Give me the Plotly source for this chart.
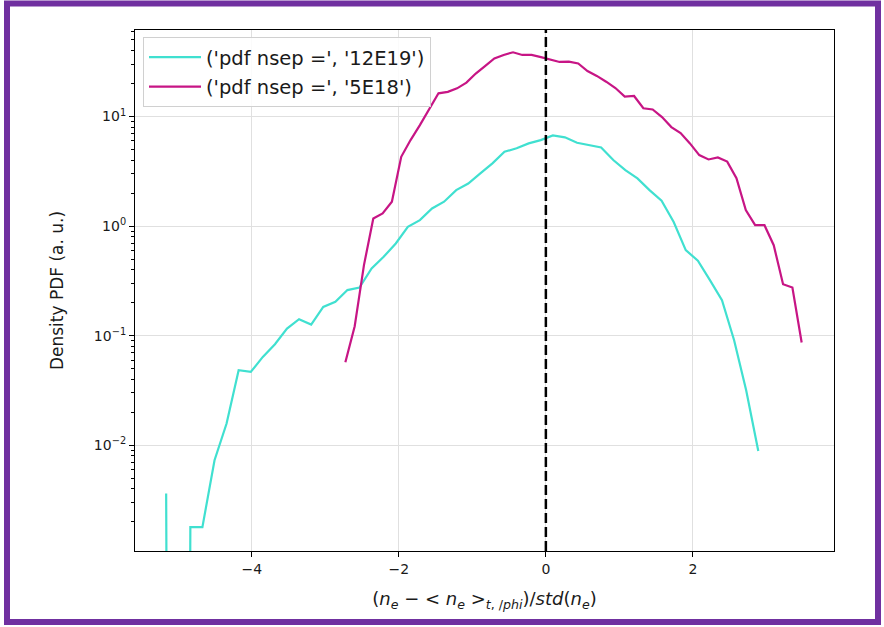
import plotly.graph_objects as go

# Figure geometry (pixels)
FIG_W, FIG_H = 884, 627
M_L, M_R, M_T, M_B = 135, 50, 30, 76
PLOT_W = FIG_W - M_L - M_R
PLOT_H = FIG_H - M_T - M_B

series_names = ["('pdf nsep =', '12E19')", "('pdf nsep =', '5E18')"]
series_colors = ["#40e0d0", "#c71585"]

# Normalised density PDF, nsep = 12E19
x_12e19 = [-5.166, -5.002, -4.837, -4.673, -4.508, -4.344, -4.180, -4.015, -3.851, -3.686,
           -3.522, -3.358, -3.193, -3.029, -2.864, -2.700, -2.536, -2.371, -2.207, -2.042,
           -1.878, -1.714, -1.549, -1.385, -1.220, -1.056, -0.892, -0.727, -0.563, -0.398,
           -0.234, -0.070, 0.095, 0.259, 0.424, 0.588, 0.752, 0.917, 1.081, 1.246,
           1.410, 1.574, 1.739, 1.903, 2.068, 2.232, 2.396, 2.561, 2.725, 2.890]
pdf_12e19 = [0.00362, 0.0, 0.00179, 0.00179, 0.0073, 0.0158, 0.0484, 0.0467, 0.064, 0.0836,
             0.116, 0.1415, 0.1265, 0.183, 0.204, 0.261, 0.275, 0.411, 0.525, 0.695,
             0.986, 1.135, 1.45, 1.67, 2.13, 2.45, 3.03, 3.74, 4.77, 5.13,
             5.69, 6.10, 6.73, 6.46, 5.77, 5.52, 5.23, 4.01, 3.25, 2.73,
             2.13, 1.71, 1.09, 0.604, 0.484, 0.321, 0.211, 0.091, 0.0318, 0.00887]

# Normalised density PDF, nsep = 5E18
x_5e18 = [-2.728, -2.601, -2.475, -2.348, -2.221, -2.095, -1.968, -1.841, -1.714, -1.588,
          -1.461, -1.334, -1.208, -1.081, -0.954, -0.828, -0.701, -0.574, -0.447, -0.321,
          -0.194, -0.067, 0.059, 0.186, 0.313, 0.440, 0.566, 0.693, 0.820, 0.946,
          1.073, 1.200, 1.326, 1.453, 1.580, 1.707, 1.833, 1.960, 2.087, 2.213,
          2.340, 2.467, 2.593, 2.720, 2.847, 2.974, 3.100, 3.227, 3.354, 3.480]
pdf_5e18 = [0.0573, 0.122, 0.441, 1.175, 1.306, 1.667, 4.29, 6.10, 8.36, 11.7,
            16.3, 16.8, 18.1, 20.4, 24.7, 28.9, 33.9, 36.5, 38.6, 36.5,
            36.5, 34.9, 33.3, 31.5, 31.7, 30.5, 26.0, 23.5, 20.8, 18.2,
            15.2, 15.4, 11.9, 11.6, 9.9, 8.02, 7.06, 5.69, 4.45, 4.06,
            4.24, 3.88, 2.74, 1.40, 1.02, 1.02, 0.670, 0.295, 0.275, 0.0867]

x_ticks = [-4, -2, 0, 2]
y_exponents = [-2, -1, 0, 1]

X_RANGE = [-5.59, 3.92]
Y_RANGE_LOG = [-2.965, 1.79]

# Empty bins are clipped to a tiny positive value so the log axis draws them
# as drops to the bottom of the axes.
LOG_FLOOR = 1e-30


def clip_log(values):
    return [v if v > 0 else LOG_FLOOR for v in values]


def sup_label(e):
    return "10<sup>" + str(e).replace("-", "\u2212") + "</sup>"


def paper_x(px):
    return (px - M_L) / PLOT_W


def paper_y(py):
    return (FIG_H - M_B - py) / PLOT_H


FONT = "DejaVu Sans"
TEXT_COLOR = "#1a1a1a"

fig = go.Figure()
for name, color, xs, ys in [
    (series_names[0], series_colors[0], x_12e19, pdf_12e19),
    (series_names[1], series_colors[1], x_5e18, pdf_5e18),
]:
    fig.add_trace(go.Scatter(
        x=xs, y=clip_log(ys), mode="lines", name=name, legendgroup=name,
        line=dict(color=color, width=2.2),
    ))

# vertical reference line at zero
fig.add_shape(type="line", xref="x", yref="paper", x0=0, x1=0, y0=0, y1=1,
              line=dict(color="black", width=2.5, dash="10px,4px"), layer="above")

# purple frame round the figure
fig.add_shape(type="rect", xref="paper", yref="paper",
              x0=paper_x(7), x1=paper_x(878), y0=paper_y(622), y1=paper_y(3.5),
              line=dict(color="#7030a0", width=6), fillcolor="rgba(0,0,0,0)", layer="above")

minor_vals = [k * 10.0 ** e for e in range(-3, 2) for k in range(2, 10)]

axis_common = dict(
    showline=True, mirror=True, linecolor="black", linewidth=1.1,
    ticks="outside", ticklen=5, tickwidth=1.1, tickcolor="black",
    showgrid=True, gridcolor="#e0e0e0", gridwidth=1.4, zeroline=False,
    tickfont=dict(family=FONT, size=14, color=TEXT_COLOR),
)

fig.update_xaxes(
    range=X_RANGE, tickvals=x_ticks,
    title=dict(
        text="(<i>n</i><sub><i>e</i></sub> \u2212 &lt; <i>n</i><sub><i>e</i></sub> &gt;"
             "<sub><i>t</i>, /<i>phi</i></sub>)/<i>std</i>(<i>n</i><sub><i>e</i></sub>)",
        font=dict(family=FONT, size=18, color=TEXT_COLOR), standoff=16),
    **axis_common,
)
fig.update_yaxes(
    type="log", range=Y_RANGE_LOG,
    tickvals=[10.0 ** e for e in y_exponents], ticktext=[sup_label(e) for e in y_exponents],
    minor=dict(tickvals=minor_vals, ticks="outside", ticklen=3, tickwidth=1,
               tickcolor="black", showgrid=False),
    title=dict(text="Density PDF (a. u.)", font=dict(family=FONT, size=17, color=TEXT_COLOR),
               standoff=25),
    **axis_common,
)

fig.update_layout(
    width=FIG_W, height=FIG_H,
    margin=dict(l=M_L, r=M_R, t=M_T, b=M_B, autoexpand=False),
    paper_bgcolor="white", plot_bgcolor="white",
    font=dict(family=FONT, size=14, color=TEXT_COLOR),
    showlegend=True,
    legend=dict(
        x=paper_x(143), y=paper_y(37), xanchor="left", yanchor="top",
        bgcolor="rgba(255,255,255,0.85)", bordercolor="#d0d0d0", borderwidth=1,
        font=dict(family=FONT, size=19.5, color=TEXT_COLOR),
        tracegroupgap=1, itemwidth=52,
    ),
)

fig.write_html("out.html")
